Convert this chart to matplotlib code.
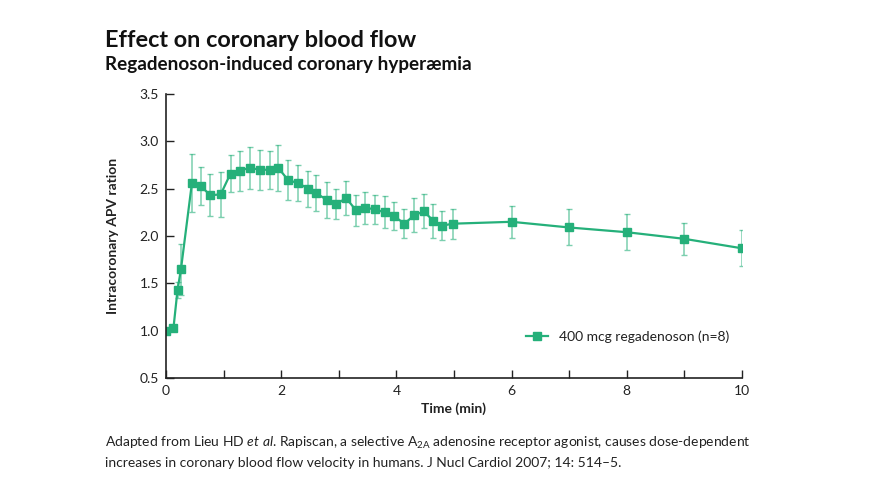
import numpy as np
import matplotlib.pyplot as plt

plt.rcParams['font.family'] = ['Lato', 'DejaVu Sans']
plt.rcParams['mathtext.fontset'] = 'custom'
plt.rcParams['mathtext.rm'] = 'Lato'
plt.rcParams['mathtext.it'] = 'Lato:italic'

# time points (min), mean ratio and error (SD)
t = [0, 0.13, 0.2, 0.26, 0.45, 0.6, 0.77, 0.95, 1.12, 1.28, 1.45, 1.63, 1.8, 1.95,
     2.12, 2.29, 2.47, 2.61, 2.8, 2.96, 3.13, 3.3, 3.46, 3.63, 3.8, 3.96, 4.14,
     4.31, 4.48, 4.64, 4.8, 4.98, 6, 7, 8, 9, 10]
apv = [1.0, 1.03, 1.43, 1.65, 2.56, 2.53, 2.43, 2.44, 2.66, 2.69, 2.72, 2.70, 2.70, 2.72,
       2.59, 2.56, 2.50, 2.45, 2.38, 2.34, 2.40, 2.27, 2.30, 2.28, 2.25, 2.21, 2.13,
       2.22, 2.26, 2.16, 2.11, 2.13, 2.15, 2.09, 2.04, 1.97, 1.87]
err = [0.0, 0.0, 0.08, 0.27, 0.31, 0.2, 0.22, 0.24, 0.2, 0.21, 0.22, 0.21, 0.2, 0.24,
       0.21, 0.19, 0.19, 0.19, 0.19, 0.16, 0.18, 0.16, 0.17, 0.15, 0.17, 0.15, 0.15,
       0.18, 0.18, 0.18, 0.15, 0.16, 0.17, 0.19, 0.19, 0.17, 0.19]

green = '#25b07a'
dark = '#222222'

fig = plt.figure(figsize=(8.76, 4.93), dpi=100)
ax = fig.add_axes([0.1895, 0.2333, 0.6575, 0.576])

ax.errorbar(t, apv, yerr=err, fmt='none', ecolor=green, elinewidth=1.1,
            capsize=2, capthick=1, alpha=0.6)
ax.plot(t, apv, color=green, marker='s', markersize=5.5, linewidth=1.6,
        label='400 mcg regadenoson (n=8)')

ax.set_xlim(0, 10)
ax.set_ylim(0.5, 3.5)
ax.set_xticks(np.arange(0, 11, 1))
ax.set_xticklabels([str(i) if i % 2 == 0 else '' for i in range(11)])
ax.set_yticks(np.arange(0.5, 3.6, 0.5))
ax.set_yticklabels(['%.1f' % v for v in np.arange(0.5, 3.6, 0.5)])
ax.tick_params(direction='in', length=6, width=1, colors=dark, labelsize=10, pad=5)
for s in ['top', 'right']:
    ax.spines[s].set_visible(False)
for s in ['left', 'bottom']:
    ax.spines[s].set_linewidth(1.2)
    ax.spines[s].set_color(dark)

ax.set_xlabel('Time (min)', fontsize=10, fontweight='bold', color=dark, labelpad=4)
ax.set_ylabel('Intracoronary APV ration', fontsize=10, fontweight='bold', color=dark, labelpad=15)

ax.legend(loc='lower right', bbox_to_anchor=(1.0, 0.08), frameon=False, fontsize=10,
          handlelength=1.6, handletextpad=0.8, labelcolor=dark)

fig.text(0.12, 0.905, 'Effect on coronary blood flow', fontsize=16.9, fontweight='bold', color='#111111')
fig.text(0.12, 0.857, 'Regadenoson-induced coronary hyperæmia', fontsize=13.6, fontweight='bold', color='#111111')

fig.text(0.12, 0.094, r'Adapted from Lieu HD $\it{et\ al}$. Rapiscan, a selective A$_{\rm 2A}$ adenosine receptor agonist, causes dose-dependent',
         fontsize=10, color=dark)
fig.text(0.12, 0.053, 'increases in coronary blood flow velocity in humans. J Nucl Cardiol 2007; 14: 514–5.',
         fontsize=10, color=dark)

fig.savefig('out.png', dpi=100)
